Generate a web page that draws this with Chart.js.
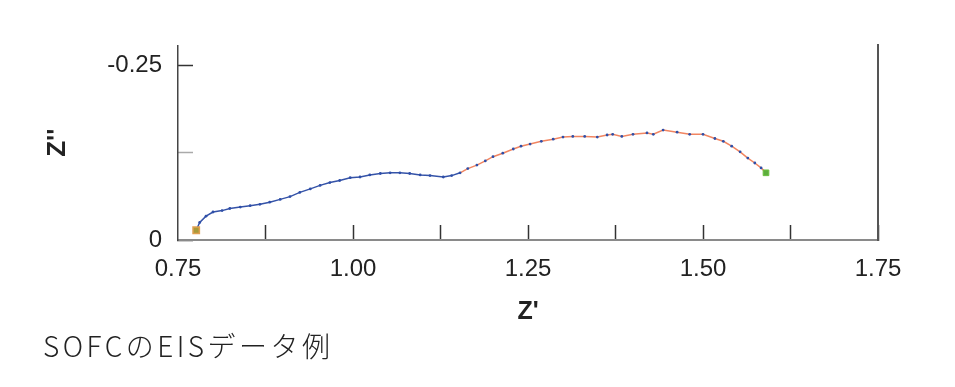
<!DOCTYPE html>
<html>
<head>
<meta charset="utf-8">
<script src="https://cdn.jsdelivr.net/npm/chart.js@4"></script>
<style>
  html, body { margin: 0; padding: 0; background: #fff; }
  #wrap { position: relative; width: 955px; height: 387px; }
  #caption {
    position: absolute; left: 43px; top: 325px;
    font-family: "Noto Sans CJK JP", "Noto Sans", sans-serif;
    font-weight: 300; font-size: 28px; letter-spacing: 3.5px; color: #222;
  }
</style>
</head>
<body>
<div id="wrap">
  <canvas id="myChart" width="955" height="387"></canvas>
  <div id="caption">SOFCのEISデータ例</div>
</div>
<script>
const zReal = [0.776, 0.781, 0.790, 0.800, 0.813, 0.824, 0.839, 0.853, 0.867, 0.881,
  0.896, 0.910, 0.924, 0.939, 0.953, 0.967, 0.981, 0.996, 1.010, 1.024,
  1.039, 1.053, 1.067, 1.081, 1.096, 1.110, 1.129, 1.141, 1.153, 1.164,
  1.177, 1.189, 1.200, 1.214, 1.229, 1.240, 1.253, 1.269, 1.286, 1.300,
  1.314, 1.331, 1.349, 1.363, 1.371, 1.384, 1.400, 1.420, 1.429, 1.443,
  1.463, 1.481, 1.500, 1.517, 1.529, 1.541, 1.553, 1.564, 1.574, 1.583, 1.590];
const zImag = [-0.014, -0.025, -0.034, -0.040, -0.042, -0.045, -0.047, -0.049, -0.051, -0.054,
  -0.058, -0.062, -0.068, -0.073, -0.078, -0.082, -0.085, -0.089, -0.090, -0.093,
  -0.095, -0.096, -0.096, -0.095, -0.093, -0.092, -0.090, -0.092, -0.096, -0.102,
  -0.107, -0.113, -0.119, -0.124, -0.130, -0.134, -0.137, -0.141, -0.144, -0.147,
  -0.148, -0.148, -0.147, -0.150, -0.151, -0.148, -0.151, -0.153, -0.151, -0.157,
  -0.154, -0.151, -0.151, -0.145, -0.141, -0.134, -0.126, -0.117, -0.110, -0.103, -0.096];

const xTicks = [0.75, 0.875, 1.00, 1.125, 1.25, 1.375, 1.50, 1.625, 1.75];
const xLabels = [0.75, 1.00, 1.25, 1.50, 1.75];
const yTicks = [-0.25, -0.125, 0];
const yLabels = { '-0.25': '-0.25', '0': '0' };

const points = zReal.map((x, i) => ({ x: x, y: zImag[i] }));
const first = [points[0]];
const last = [points[points.length - 1]];

const ctx = document.getElementById('myChart');

new Chart(ctx, {
    type: 'scatter',
    data: {
        datasets: [{
            data: points,
            showLine: true,
            borderColor: 'rgba(240, 120, 80, 0.9)',
            borderWidth: 1.5,
            pointRadius: 1.4,
            pointBackgroundColor: '#2f4fa8',
            pointBorderWidth: 0,
            segment: {
                borderColor: c => c.p0DataIndex < 28 ? '#3553a8' : 'rgba(240, 120, 80, 0.9)'
            },
            order: 2
        }, {
            data: first,
            pointStyle: 'rect',
            pointRadius: 4.5,
            pointBackgroundColor: '#a89a3a',
            pointBorderColor: '#e0a050',
            pointBorderWidth: 1.5,
            order: 1
        }, {
            data: last,
            pointStyle: 'rect',
            pointRadius: 4,
            pointBackgroundColor: '#5cae3c',
            pointBorderColor: '#6cc040',
            pointBorderWidth: 1,
            order: 1
        }]
    },
    options: {
        responsive: false,
        animation: false,
        layout: { padding: { left: 42, right: 77, top: 43, bottom: 60 } },
        plugins: { legend: { display: false }, tooltip: { enabled: false } },
        scales: {
            x: {
                type: 'linear',
                min: 0.75,
                max: 1.75,
                afterBuildTicks: s => { s.ticks = xTicks.map(v => ({ value: v })); },
                afterFit: s => { s.height = 87; },
                grid: {
                    drawOnChartArea: false,
                    tickLength: -15,
                    tickWidth: 1.5,
                    tickColor: c => c.tick && c.tick.value === 0.75 ? 'rgba(0,0,0,0)' : '#333'
                },
                border: { color: '#8a8a8a', width: 2 },
                ticks: {
                    padding: 30,
                    color: '#222',
                    font: { family: 'Liberation Sans', size: 24 },
                    maxRotation: 0,
                    autoSkip: false,
                    callback: v => xLabels.some(l => Math.abs(l - v) < 1e-6) ? v.toFixed(2) : ''
                },
                title: {
                    display: true,
                    text: "Z'",
                    color: '#222',
                    font: { family: 'Liberation Sans', size: 25, weight: 'bold' },
                    padding: 0
                }
            },
            y: {
                type: 'linear',
                reverse: true,
                min: -0.278,
                max: 0,
                afterBuildTicks: s => { s.ticks = yTicks.map(v => ({ value: v })); },
                afterFit: s => { s.width = 136; },
                grid: {
                    drawOnChartArea: false,
                    tickLength: -15,
                    tickWidth: 1.5,
                    tickColor: c => c.tick && c.tick.value === -0.125 ? '#aaa' : '#333'
                },
                border: { color: '#444', width: 1.5 },
                ticks: {
                    padding: 31,
                    color: '#222',
                    font: { family: 'Liberation Sans', size: 24 },
                    autoSkip: false,
                    callback: v => yLabels[String(v)] || ''
                },
                title: {
                    display: true,
                    text: "Z''",
                    color: '#222',
                    font: { family: 'Liberation Sans', size: 26, weight: 'bold' },
                    padding: 0
                }
            },
            y2: {
                type: 'linear',
                position: 'right',
                min: 0,
                max: 1,
                afterFit: s => { s.width = 0; },
                grid: { drawOnChartArea: false, drawTicks: false },
                border: { color: '#555', width: 2 },
                ticks: { display: false }
            }
        }
    }
});
</script>
</body>
</html>
